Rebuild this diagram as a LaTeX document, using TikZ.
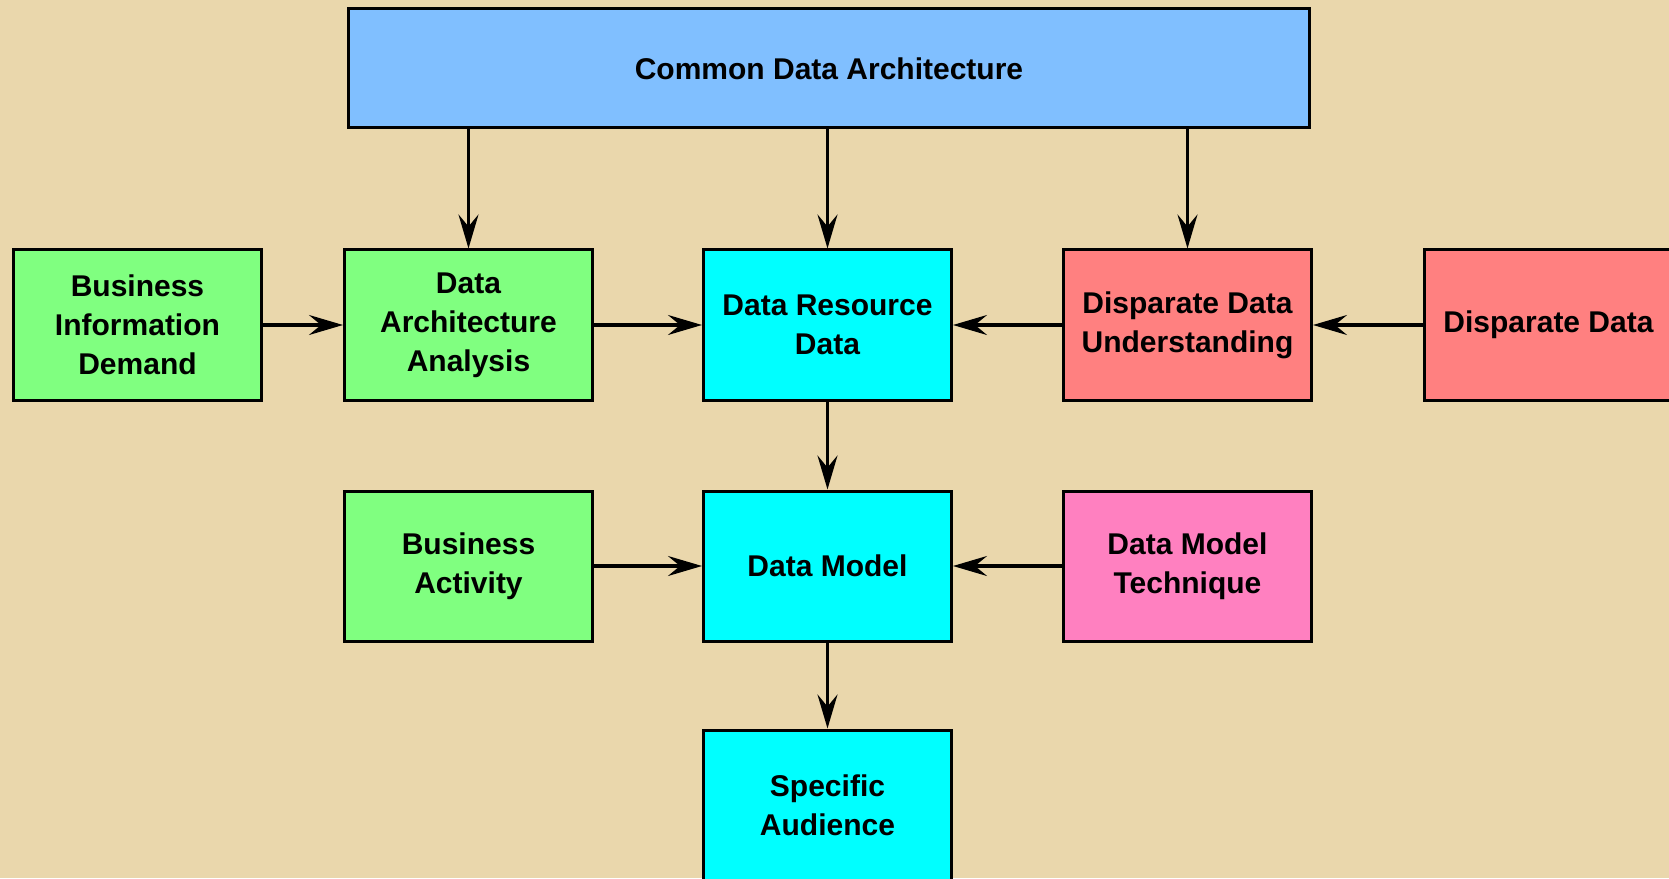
\documentclass[tikz,border=0pt]{standalone}
\usepackage{fontspec}
\setmainfont{Liberation Sans}
\usetikzlibrary{arrows.meta,positioning}

\definecolor{parchment}{RGB}{234,215,172}
\definecolor{archblue}{RGB}{128,191,255}
\definecolor{bizgreen}{RGB}{128,255,128}
\definecolor{datacyan}{RGB}{0,255,255}
\definecolor{dispred}{RGB}{255,128,128}
\definecolor{techpink}{RGB}{255,128,192}

\begin{document}
\begin{tikzpicture}[font=\fontsize{15pt}{19.5pt}\selectfont\bfseries]
\tikzstyle{box}=[draw, line width=1.5pt, minimum width=124pt, minimum height=75pt, align=center, inner sep=2pt]
\tikzstyle{flow}=[line width=1.6pt, -{Stealth[length=17pt,width=10pt,inset=6pt]}]

 % page and background
 \useasboundingbox (-413.75pt,-276.5pt) rectangle (420.75pt,162.5pt);
 \clip (-413.75pt,-276.5pt) rectangle (420.75pt,162.5pt);
 \fill[parchment] (-413.75pt,-276.5pt) rectangle (420.75pt,162.5pt);

 % middle row
 \node[box, fill=datacyan] (drd) at (0,0) {Data Resource\\Data};
 \node[box, fill=bizgreen, left=54pt of drd] (daa) {Data\\Architecture\\Analysis};
 \node[box, fill=bizgreen, left=40pt of daa] (bid) {Business\\Information\\Demand};
 \node[box, fill=dispred, right=54.5pt of drd] (ddu) {Disparate Data\\Understanding};
 \node[box, fill=dispred, right=55pt of ddu] (dd) {Disparate Data};

 % top
 \node[box, fill=archblue, minimum width=480pt, minimum height=59.5pt, above=59.5pt of drd, xshift=0.75pt] (cda) {Common Data Architecture};

 % lower rows
 \node[box, fill=datacyan, below=44pt of drd] (dm) {Data Model};
 \node[box, fill=bizgreen, left=54pt of dm] (ba) {Business\\Activity};
 \node[box, fill=techpink, right=54.5pt of dm] (dmt) {Data Model\\Technique};
 \node[box, fill=datacyan, below=43pt of dm] (sa) {Specific\\Audience};

 \draw[flow] (cda.south -| daa.north) -- (daa.north);
 \draw[flow] (cda.south -| drd.north) -- (drd.north);
 \draw[flow] (cda.south -| ddu.north) -- (ddu.north);
 \draw[flow] (bid) -- (daa);
 \draw[flow] (daa) -- (drd);
 \draw[flow] (ddu) -- (drd);
 \draw[flow] (dd) -- (ddu);
 \draw[flow] (drd) -- (dm);
 \draw[flow] (ba) -- (dm);
 \draw[flow] (dmt) -- (dm);
 \draw[flow] (dm) -- (sa);
\end{tikzpicture}
\end{document}
